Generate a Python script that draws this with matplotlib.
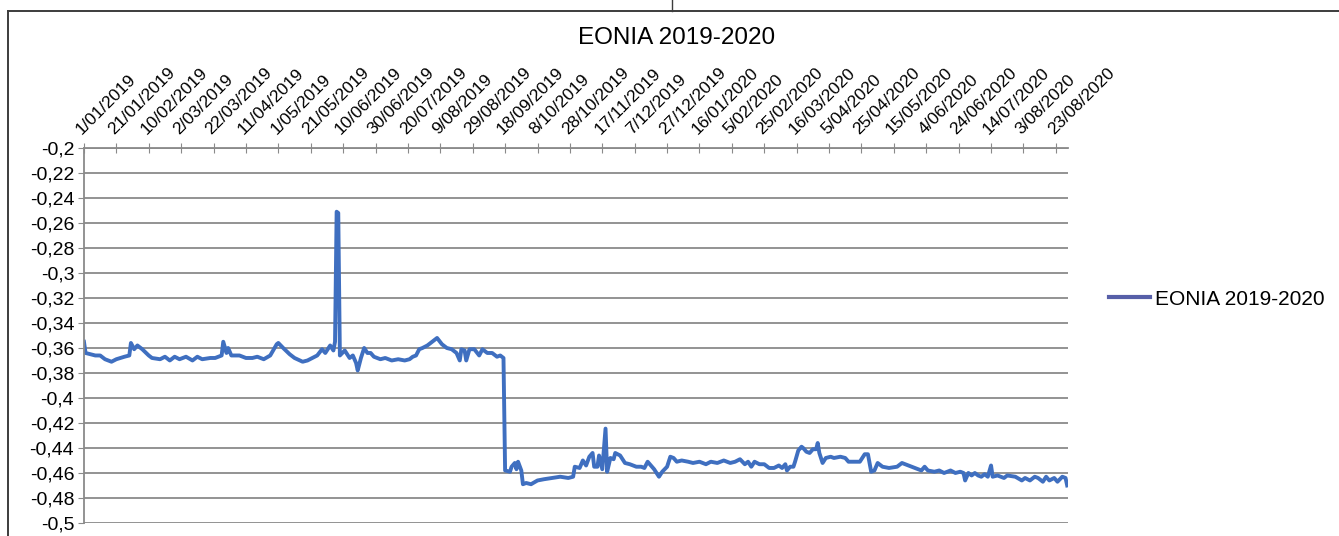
import matplotlib
matplotlib.use("Agg")
import matplotlib.pyplot as plt
import matplotlib.dates as mdates
from matplotlib.ticker import FuncFormatter, MultipleLocator
from matplotlib.lines import Line2D
import pandas as pd

plt.rcParams['font.family'] = ['Liberation Sans', 'DejaVu Sans']

# EONIA fixings (date, rate in %)
dates_2019 = [
    "2019-01-01", "2019-01-02", "2019-01-05", "2019-01-08", "2019-01-11", "2019-01-14",
    "2019-01-18", "2019-01-21", "2019-01-26", "2019-01-29", "2019-01-30", "2019-02-01",
    "2019-02-03", "2019-02-06", "2019-02-10", "2019-02-12", "2019-02-17", "2019-02-20",
    "2019-02-23", "2019-02-26", "2019-03-01", "2019-03-05", "2019-03-09", "2019-03-12",
    "2019-03-15", "2019-03-20", "2019-03-23", "2019-03-27", "2019-03-28", "2019-03-30",
    "2019-03-31", "2019-04-02", "2019-04-07", "2019-04-11", "2019-04-15", "2019-04-18",
    "2019-04-22", "2019-04-26", "2019-04-30", "2019-05-01", "2019-05-04", "2019-05-08",
    "2019-05-11", "2019-05-16", "2019-05-19", "2019-05-22", "2019-05-25", "2019-05-28",
    "2019-05-30", "2019-06-02", "2019-06-04", "2019-06-05", "2019-06-06", "2019-06-07",
    "2019-06-08", "2019-06-11", "2019-06-14", "2019-06-16", "2019-06-18", "2019-06-19",
    "2019-06-21", "2019-06-23", "2019-06-25", "2019-06-27", "2019-06-29", "2019-07-03",
    "2019-07-06", "2019-07-10", "2019-07-14", "2019-07-18", "2019-07-21", "2019-07-23",
    "2019-07-25", "2019-07-27", "2019-07-29", "2019-08-01", "2019-08-04", "2019-08-07",
    "2019-08-10", "2019-08-13", "2019-08-16", "2019-08-19", "2019-08-21", "2019-08-22",
    "2019-08-24", "2019-08-25", "2019-08-27", "2019-08-30", "2019-09-02", "2019-09-04",
    "2019-09-07", "2019-09-10", "2019-09-13", "2019-09-15", "2019-09-17",
]
rates_2019 = [
    -0.355, -0.364, -0.365, -0.366, -0.366, -0.369,
    -0.371, -0.369, -0.367, -0.366, -0.356, -0.361,
    -0.358, -0.361, -0.366, -0.368, -0.369, -0.367,
    -0.370, -0.367, -0.369, -0.367, -0.370, -0.367,
    -0.369, -0.368, -0.368, -0.366, -0.355, -0.364,
    -0.360, -0.366, -0.366, -0.368, -0.368, -0.367,
    -0.369, -0.366, -0.357, -0.356, -0.360, -0.365,
    -0.368, -0.371, -0.370, -0.368, -0.366, -0.361,
    -0.364, -0.358, -0.362, -0.355, -0.251, -0.252,
    -0.366, -0.362, -0.368, -0.366, -0.372, -0.378,
    -0.368, -0.360, -0.364, -0.364, -0.367, -0.369,
    -0.368, -0.370, -0.369, -0.370, -0.369, -0.367,
    -0.366, -0.361, -0.360, -0.358, -0.355, -0.352,
    -0.357, -0.360, -0.361, -0.364, -0.370, -0.361,
    -0.362, -0.370, -0.361, -0.361, -0.366, -0.361,
    -0.364, -0.364, -0.367, -0.366, -0.368,
]

# after the September 2019 rate cut
dates_cut = [
    "2019-09-18", "2019-09-21", "2019-09-22", "2019-09-24", "2019-09-25", "2019-09-26",
    "2019-09-28", "2019-09-29", "2019-10-01", "2019-10-04", "2019-10-08", "2019-10-12",
    "2019-10-17", "2019-10-22", "2019-10-27", "2019-10-30", "2019-10-31", "2019-11-03",
    "2019-11-05", "2019-11-07", "2019-11-09", "2019-11-11", "2019-11-12", "2019-11-14",
    "2019-11-15", "2019-11-17", "2019-11-19", "2019-11-20", "2019-11-22", "2019-11-24",
    "2019-11-25", "2019-11-28", "2019-11-29", "2019-12-01", "2019-12-04", "2019-12-08",
    "2019-12-11", "2019-12-13", "2019-12-15", "2019-12-17", "2019-12-19", "2019-12-22",
    "2019-12-24", "2019-12-27", "2019-12-29", "2019-12-31", "2020-01-02", "2020-01-05",
    "2020-01-09", "2020-01-12", "2020-01-16", "2020-01-20", "2020-01-23", "2020-01-27",
    "2020-01-31", "2020-02-04", "2020-02-07", "2020-02-10", "2020-02-13", "2020-02-15",
    "2020-02-17", "2020-02-19", "2020-02-22", "2020-02-25", "2020-02-28", "2020-03-02",
    "2020-03-05", "2020-03-07", "2020-03-09", "2020-03-10", "2020-03-12", "2020-03-14",
    "2020-03-15", "2020-03-17", "2020-03-19", "2020-03-20", "2020-03-22", "2020-03-24",
    "2020-03-26", "2020-03-28", "2020-03-29", "2020-03-30", "2020-04-01", "2020-04-03",
    "2020-04-06", "2020-04-08", "2020-04-12", "2020-04-15", "2020-04-17", "2020-04-21",
    "2020-04-24", "2020-04-27", "2020-04-29", "2020-05-01", "2020-05-03", "2020-05-05",
    "2020-05-08", "2020-05-12", "2020-05-17", "2020-05-20", "2020-05-24", "2020-05-28",
    "2020-06-01", "2020-06-03", "2020-06-05", "2020-06-09", "2020-06-12", "2020-06-15",
    "2020-06-19", "2020-06-22", "2020-06-25", "2020-06-27", "2020-06-28", "2020-06-30",
    "2020-07-02", "2020-07-04", "2020-07-06", "2020-07-08", "2020-07-10", "2020-07-12",
    "2020-07-14", "2020-07-15", "2020-07-18", "2020-07-22", "2020-07-24", "2020-07-29",
    "2020-08-02", "2020-08-04", "2020-08-07", "2020-08-10", "2020-08-12", "2020-08-15",
    "2020-08-17", "2020-08-19", "2020-08-22", "2020-08-24", "2020-08-27", "2020-08-29",
    "2020-08-30",
]
rates_cut = [
    -0.458, -0.459, -0.455, -0.452, -0.457, -0.451,
    -0.458, -0.469, -0.468, -0.469, -0.466, -0.465,
    -0.464, -0.463, -0.464, -0.463, -0.455, -0.456,
    -0.450, -0.454, -0.447, -0.444, -0.455, -0.455,
    -0.446, -0.457, -0.4245, -0.459, -0.448, -0.449,
    -0.444, -0.446, -0.448, -0.452, -0.453, -0.455,
    -0.455, -0.456, -0.451, -0.454, -0.457, -0.463,
    -0.459, -0.455, -0.447, -0.448, -0.451, -0.450,
    -0.451, -0.452, -0.451, -0.453, -0.451, -0.452,
    -0.450, -0.452, -0.451, -0.449, -0.453, -0.451,
    -0.455, -0.451, -0.453, -0.453, -0.456, -0.456,
    -0.454, -0.456, -0.453, -0.458, -0.455, -0.455,
    -0.451, -0.442, -0.439, -0.440, -0.443, -0.444,
    -0.441, -0.441, -0.436, -0.444, -0.452, -0.448,
    -0.447, -0.448, -0.447, -0.448, -0.451, -0.451,
    -0.451, -0.445, -0.445, -0.459, -0.458, -0.452,
    -0.455, -0.456, -0.455, -0.452, -0.454, -0.456,
    -0.458, -0.455, -0.458, -0.459, -0.458, -0.460,
    -0.458, -0.460, -0.459, -0.460, -0.466, -0.460,
    -0.462, -0.460, -0.462, -0.463, -0.461, -0.463,
    -0.454, -0.463, -0.462, -0.464, -0.462, -0.463,
    -0.466, -0.464, -0.466, -0.463, -0.464, -0.467,
    -0.463, -0.466, -0.464, -0.467, -0.463, -0.464,
    -0.470,
]

series_name = "EONIA 2019-2020"
tick_start = "2019-01-01"
tick_end = "2020-08-23"
tick_step_days = 20

dates = pd.to_datetime(dates_2019 + dates_cut)
rates = rates_2019 + rates_cut

line_color = "#3f6fc0"
grid_color = "#8a8a8a"

fig = plt.figure(figsize=(13.39, 5.36), dpi=100)
ax = fig.add_axes([0.0627, 0.0243, 0.7349, 0.6996])

ax.plot(dates, rates, color=line_color, linewidth=2.8, solid_joinstyle='round')

ax.set_ylim(-0.5, -0.2)
ax.set_xlim(pd.Timestamp(tick_start), pd.Timestamp("2020-08-30 12:00"))
ax.yaxis.set_major_locator(MultipleLocator(0.02))
ax.yaxis.set_major_formatter(FuncFormatter(
    lambda v, p: f"{v:.2f}".rstrip('0').rstrip('.').replace('.', ',')))
ax.grid(axis='y', color=grid_color, linewidth=1.3)
ax.set_axisbelow(True)

# date axis on top, like the Excel original
ticks = pd.date_range(tick_start, tick_end, freq=f"{tick_step_days}D")
ax.set_xticks(ticks)
ax.xaxis.set_major_formatter(FuncFormatter(
    lambda v, p: (lambda d: f"{d.day}/{d.month:02d}/{d.year}")(mdates.num2date(v))))
ax.xaxis.tick_top()
ax.tick_params(axis='x', direction='inout', length=7, color=grid_color,
               labelsize=12.5, pad=4)
ax.tick_params(axis='y', direction='out', length=4, color=grid_color,
               labelsize=14, pad=3)
for lab in ax.get_xticklabels():
    lab.set_rotation(45)
    lab.set_ha('left')
    lab.set_va('bottom')
    lab.set_rotation_mode('anchor')

for side in ['right', 'bottom']:
    ax.spines[side].set_visible(False)
ax.spines['top'].set_color(grid_color)
ax.spines['top'].set_linewidth(1.3)
ax.spines['left'].set_color(grid_color)
ax.spines['left'].set_linewidth(1.3)

fig.text(0.505, 0.929, series_name, ha='center', va='center', fontsize=17.5)

handle = Line2D([], [], color="#575fa8", linewidth=3)
fig.legend([handle], [series_name], loc='center left',
           bbox_to_anchor=(0.814, 0.442), frameon=False, fontsize=15,
           handlelength=2.0, handletextpad=0.2)

# chart frame from the source document
fig.add_artist(Line2D([8 / 1339, 1.0], [1 - 11 / 536, 1 - 11 / 536],
                      color="#3c3c3c", linewidth=1.4))
fig.add_artist(Line2D([8 / 1339, 8 / 1339], [0.0, 1 - 11 / 536],
                      color="#3c3c3c", linewidth=1.4))
fig.add_artist(Line2D([672 / 1339, 672 / 1339], [1 - 11 / 536, 1.0],
                      color="#3c3c3c", linewidth=1.0))

fig.savefig("out.png", dpi=100)
